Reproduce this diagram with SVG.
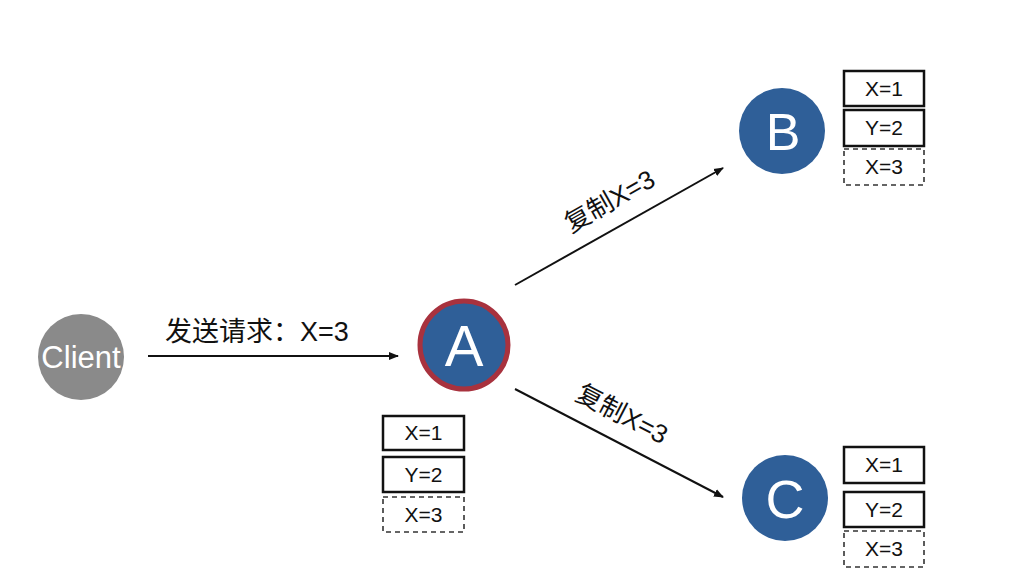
<svg xmlns="http://www.w3.org/2000/svg" width="1024" height="576" viewBox="0 0 1024 576">
<defs>
<marker id="arr" viewBox="0 0 10 10" refX="9" refY="5" markerWidth="10" markerHeight="10" markerUnits="userSpaceOnUse" orient="auto">
<path d="M0,1 L10,5 L0,9 Z" fill="#111"/>
</marker>
<style>
.box{fill:#fff;stroke:#111;stroke-width:2.5}
.dash{fill:#fff;stroke:#333;stroke-width:1.6;stroke-dasharray:5 4}
.bt{font-family:"Liberation Sans",Arial,sans-serif;font-size:21px;fill:#111;text-anchor:middle}
.lt{font-family:"Liberation Sans","Noto Sans CJK SC",sans-serif;fill:#111}
.node{fill:#2f5f98}
.nt{font-family:"Liberation Sans",Arial,sans-serif;fill:#fff;text-anchor:middle}
.edge{stroke:#111;stroke-width:2;fill:none;marker-end:url(#arr)}
</style>
</defs>
<rect width="1024" height="576" fill="#fff"/>
<g id="connectors">
<line class="edge" x1="148" y1="356" x2="398" y2="356"/>
<line class="edge" x1="515" y1="285" x2="723" y2="168"/>
<line class="edge" x1="515" y1="389" x2="723" y2="497"/>
<text class="lt" x="165" y="341" font-size="27">发送请求：X=3</text>
<text class="lt" font-size="26" text-anchor="middle" transform="translate(614,209) rotate(-29.5)">复制X=3</text>
<text class="lt" font-size="26" text-anchor="middle" transform="translate(618,422) rotate(27.3)">复制X=3</text>
</g>
<g id="client">
<circle cx="81" cy="357" r="43" fill="#8a8a8a"/>
<text class="nt" x="81" y="368" font-size="31">Client</text>
</g>
<g id="A">
<circle class="node" cx="464" cy="345" r="44" stroke="#a8323e" stroke-width="5"/>
<text class="nt" x="464" y="366" font-size="58">A</text>
<rect class="box" x="383" y="416" width="81" height="34"/>
<text class="bt" x="423.5" y="440">X=1</text>
<rect class="box" x="383" y="457" width="81" height="35"/>
<text class="bt" x="423.5" y="482">Y=2</text>
<rect class="dash" x="383" y="497" width="81" height="35"/>
<text class="bt" x="423.5" y="522">X=3</text>
</g>
<g id="B">
<circle class="node" cx="782" cy="131" r="43"/>
<text class="nt" x="783" y="150" font-size="52">B</text>
<rect class="box" x="844" y="71" width="80" height="35"/>
<text class="bt" x="884" y="96">X=1</text>
<rect class="box" x="844" y="110" width="80" height="36"/>
<text class="bt" x="884" y="135">Y=2</text>
<rect class="dash" x="844" y="149" width="80" height="36"/>
<text class="bt" x="884" y="174">X=3</text>
</g>
<g id="C">
<circle class="node" cx="785" cy="498" r="43"/>
<text class="nt" x="785" y="518" font-size="54">C</text>
<rect class="box" x="844" y="447" width="80" height="36"/>
<text class="bt" x="884" y="472">X=1</text>
<rect class="box" x="844" y="492" width="80" height="35"/>
<text class="bt" x="884" y="517">Y=2</text>
<rect class="dash" x="844" y="531" width="80" height="36"/>
<text class="bt" x="884" y="556">X=3</text>
</g>
</svg>
